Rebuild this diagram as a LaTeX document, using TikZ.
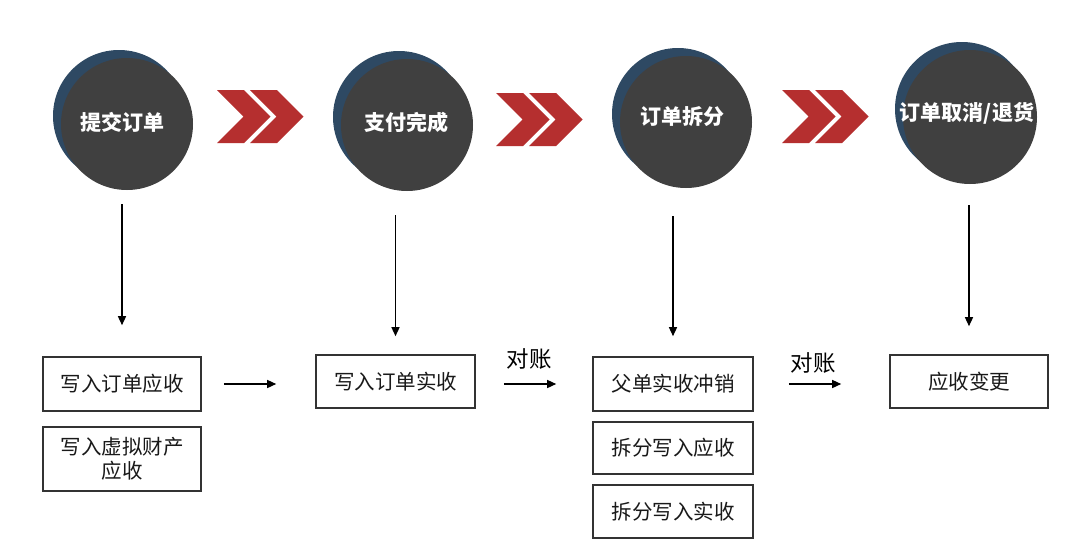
\documentclass[tikz,border=0pt]{standalone}
\usepackage{fontspec}
\newfontfamily\cjk{Noto Sans CJK SC}
\usetikzlibrary{arrows.meta}
\definecolor{dgray}{HTML}{404040}
\definecolor{dblue}{HTML}{2E4963}
\definecolor{cred}{HTML}{B52F2F}
\definecolor{bline}{HTML}{333333}
\begin{document}
\begin{tikzpicture}[x=1pt,y=-1pt,
  disc/.style={circle,fill=dgray,minimum size=132pt,inner sep=0pt},
  crescent/.style={circle,fill=dblue,minimum size=132pt,inner sep=0pt},
  ctext/.style={text=white,font=\cjk\bfseries\fontsize{21}{24}\selectfont,inner sep=0pt},
  box/.style={draw=bline,line width=1.6pt,text=black!90,font=\cjk\fontsize{20.5}{24}\selectfont,align=center,inner sep=0pt},
  lbl/.style={text=black,font=\cjk\fontsize{22.5}{24}\selectfont,inner sep=0pt},
  arr/.style={line width=1.4pt,-{Triangle[width=8pt,length=9pt]}},
  chevs/.pic={
    \fill[cred] (0,0)--(27,0)--(53.5,26.5)--(27,53)--(0,53)--(26.5,26.5)--cycle;
    \fill[cred] (33,0)--(60,0)--(86.5,26.5)--(60,53)--(33,53)--(59.5,26.5)--cycle;
  }]
\useasboundingbox (0,0) rectangle (1080,552);
\fill[white] (0,0) rectangle (1080,552);

% stage circles
\node[crescent] (s1) at (119,116) {};
\node[disc] (c1) at (127,124) {};
\node[crescent] (s2) at (399,117) {};
\node[disc] (c2) at (407,125) {};
\node[crescent] (s3) at (678,114) {};
\node[disc] (c3) at (686,122) {};
\node[crescent,minimum size=134pt] (s4) at (962,109) {};
\node[disc,minimum size=134pt] (c4) at (970,117) {};

\node[ctext] (t1) at (122,122) {提交订单};
\node[ctext] (t2) at (406,122) {支付完成};
\node[ctext] (t3) at (682,117) {订单拆分};
\node[ctext] (t4) at (967,113) {订单取消/退货};

% chevrons
\pic at (217,90) {chevs};
\pic at (496,93) {chevs};
\pic at (782,90) {chevs};

% boxes
\node[box,minimum width=158pt,minimum height=54pt] (b1) at (122,384) {写入订单应收};
\node[box,minimum width=158pt,minimum height=64pt] (b2) at (122,459) {写入虚拟财产\\应收};
\node[box,minimum width=159pt,minimum height=53pt] (b3) at (395.5,381.5) {写入订单实收};
\node[box,minimum width=160pt,minimum height=54pt] (b4) at (673,384) {父单实收冲销};
\node[box,minimum width=160pt,minimum height=52pt] (b5) at (673,448) {拆分写入应收};
\node[box,minimum width=160pt,minimum height=53pt] (b6) at (673,511.5) {拆分写入实收};
\node[box,minimum width=158pt,minimum height=53pt] (b7) at (969,381.5) {应收变更};

% vertical arrows
\draw[arr] ([yshift=-14pt]b1.north |- c1.south) -- ([yshift=31pt]b1.north);
\draw[arr] ([yshift=-24pt]b3.north |- c2.south) -- ([yshift=18pt]b3.north);
\draw[arr] ([yshift=-28pt]b4.north |- c3.south) -- ([yshift=20pt]b4.north);
\draw[arr] ([yshift=-21pt]b7.north |- c4.south) -- ([yshift=28pt]b7.north);

% horizontal arrows
\draw[arr,shorten <=22pt,shorten >=39pt] (b1.east) -- (b1.east -| b3.west);
\draw[arr,shorten <=28pt,shorten >=36pt] (b4.west -| b3.east) -- (b4.west);
\draw[arr,shorten <=35pt,shorten >=48pt] (b4.east) -- (b4.east -| b7.west);

\node[lbl] (k1) at (529,359) {对账};
\node[lbl] (k2) at (813,363) {对账};
\end{tikzpicture}
\end{document}
